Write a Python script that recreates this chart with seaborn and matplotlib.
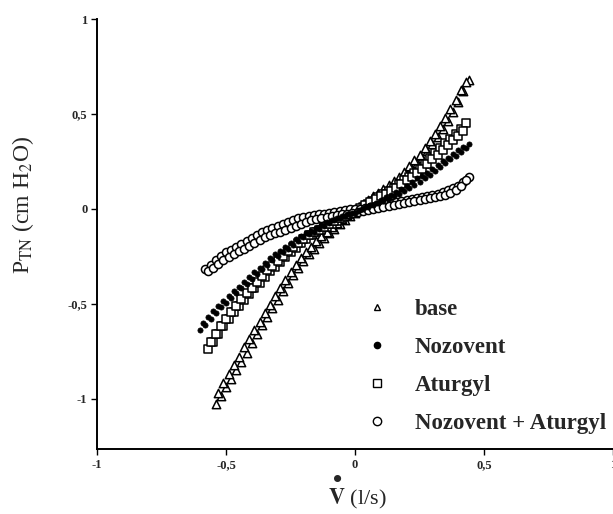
import numpy as np
import pandas as pd
import matplotlib
matplotlib.use("Agg")
import matplotlib.pyplot as plt
from matplotlib.lines import Line2D
import seaborn as sns

# ---- data ----
series_names = ["base", "Nozovent", "Aturgyl", "Nozovent + Aturgyl"]

base_x1 = [-0.54,-0.52,-0.50,-0.48,-0.46,-0.44,-0.42,-0.40,-0.38,-0.36,-0.34,-0.32,-0.30,-0.28,-0.26,-0.24,-0.22,-0.20,-0.18,-0.16,-0.14,-0.12,-0.10,-0.08,-0.06,-0.04,-0.02,0.00,0.02,0.04,0.06,0.08,0.10,0.12,0.14,0.16,0.18,0.20,0.22,0.24,0.26,0.28,0.30,0.32,0.34,0.36,0.38,0.40,0.42,0.44]
base_y1 = [-1.03,-0.985,-0.94,-0.895,-0.85,-0.805,-0.76,-0.71,-0.66,-0.615,-0.57,-0.525,-0.48,-0.435,-0.39,-0.35,-0.31,-0.275,-0.24,-0.21,-0.18,-0.155,-0.13,-0.105,-0.08,-0.06,-0.04,-0.02,0.00,0.015,0.03,0.05,0.07,0.09,0.11,0.135,0.16,0.185,0.21,0.24,0.27,0.305,0.34,0.38,0.42,0.465,0.51,0.56,0.62,0.68]
base_x2 = [-0.53,-0.51,-0.49,-0.47,-0.45,-0.43,-0.41,-0.39,-0.37,-0.35,-0.33,-0.31,-0.29,-0.27,-0.25,-0.23,-0.21,-0.19,-0.17,-0.15,-0.13,-0.11,-0.09,-0.07,-0.05,-0.03,-0.01,0.01,0.03,0.05,0.07,0.09,0.11,0.13,0.15,0.17,0.19,0.21,0.23,0.25,0.27,0.29,0.31,0.33,0.35,0.37,0.39,0.41,0.43]
base_y2 = [-0.97,-0.92,-0.87,-0.825,-0.78,-0.73,-0.685,-0.64,-0.595,-0.55,-0.505,-0.46,-0.415,-0.375,-0.335,-0.295,-0.26,-0.23,-0.20,-0.17,-0.145,-0.12,-0.095,-0.075,-0.055,-0.035,-0.015,0.005,0.025,0.045,0.065,0.085,0.105,0.125,0.145,0.17,0.195,0.225,0.255,0.285,0.32,0.355,0.395,0.435,0.48,0.525,0.575,0.625,0.67]

noz_x1 = [-0.60,-0.58,-0.56,-0.54,-0.52,-0.50,-0.48,-0.46,-0.44,-0.42,-0.40,-0.38,-0.36,-0.34,-0.32,-0.30,-0.28,-0.26,-0.24,-0.22,-0.20,-0.18,-0.16,-0.14,-0.12,-0.10,-0.08,-0.06,-0.04,-0.02,0.00,0.02,0.04,0.06,0.08,0.10,0.12,0.14,0.16,0.18,0.20,0.22,0.24,0.26,0.28,0.30,0.32,0.34,0.36,0.38,0.40,0.42,0.44]
noz_y1 = [-0.64,-0.61,-0.58,-0.55,-0.52,-0.495,-0.47,-0.445,-0.42,-0.395,-0.37,-0.345,-0.32,-0.295,-0.27,-0.25,-0.23,-0.21,-0.19,-0.17,-0.15,-0.135,-0.12,-0.105,-0.09,-0.075,-0.06,-0.05,-0.04,-0.03,-0.02,-0.005,0.01,0.02,0.03,0.045,0.06,0.075,0.09,0.105,0.12,0.14,0.16,0.175,0.19,0.21,0.23,0.25,0.27,0.29,0.31,0.325,0.34]
noz_x2 = [-0.59,-0.57,-0.55,-0.53,-0.51,-0.49,-0.47,-0.45,-0.43,-0.41,-0.39,-0.37,-0.35,-0.33,-0.31,-0.29,-0.27,-0.25,-0.23,-0.21,-0.19,-0.17,-0.15,-0.13,-0.11,-0.09,-0.07,-0.05,-0.03,-0.01,0.01,0.03,0.05,0.07,0.09,0.11,0.13,0.15,0.17,0.19,0.21,0.23,0.25,0.27,0.29,0.31,0.33,0.35,0.37,0.39,0.41,0.43]
noz_y2 = [-0.60,-0.57,-0.54,-0.51,-0.485,-0.46,-0.435,-0.41,-0.385,-0.36,-0.335,-0.31,-0.285,-0.26,-0.24,-0.22,-0.20,-0.18,-0.16,-0.145,-0.13,-0.115,-0.10,-0.085,-0.07,-0.06,-0.05,-0.04,-0.03,-0.02,-0.01,0.00,0.01,0.02,0.03,0.04,0.05,0.065,0.08,0.095,0.11,0.125,0.14,0.16,0.18,0.20,0.22,0.24,0.26,0.28,0.30,0.32]

atu_x1 = [-0.57,-0.55,-0.53,-0.51,-0.49,-0.47,-0.45,-0.43,-0.41,-0.39,-0.37,-0.35,-0.33,-0.31,-0.29,-0.27,-0.25,-0.23,-0.21,-0.19,-0.17,-0.15,-0.13,-0.11,-0.09,-0.07,-0.05,-0.03,-0.01,0.01,0.03,0.05,0.07,0.09,0.11,0.13,0.15,0.17,0.19,0.21,0.23,0.25,0.27,0.29,0.31,0.33,0.35,0.37,0.39,0.41,0.43]
atu_y1 = [-0.74,-0.70,-0.66,-0.62,-0.58,-0.545,-0.51,-0.48,-0.45,-0.42,-0.39,-0.36,-0.33,-0.305,-0.28,-0.255,-0.23,-0.205,-0.18,-0.16,-0.14,-0.125,-0.11,-0.095,-0.08,-0.065,-0.05,-0.035,-0.02,-0.005,0.01,0.025,0.04,0.06,0.08,0.095,0.11,0.13,0.15,0.17,0.19,0.21,0.235,0.27,0.295,0.32,0.345,0.37,0.395,0.42,0.45]
atu_x2 = [-0.56,-0.54,-0.52,-0.50,-0.48,-0.46,-0.44,-0.42,-0.40,-0.38,-0.36,-0.34,-0.32,-0.30,-0.28,-0.26,-0.24,-0.22,-0.20,-0.18,-0.16,-0.14,-0.12,-0.10,-0.08,-0.06,-0.04,-0.02,0.00,0.02,0.04,0.06,0.08,0.10,0.12,0.14,0.16,0.18,0.20,0.22,0.24,0.26,0.28,0.30,0.32,0.34,0.36,0.38,0.40,0.42]
atu_y2 = [-0.70,-0.66,-0.62,-0.58,-0.545,-0.51,-0.475,-0.445,-0.415,-0.385,-0.355,-0.325,-0.30,-0.275,-0.25,-0.225,-0.20,-0.18,-0.16,-0.14,-0.125,-0.11,-0.095,-0.08,-0.065,-0.05,-0.04,-0.025,-0.01,0.005,0.02,0.035,0.05,0.065,0.08,0.095,0.11,0.13,0.15,0.17,0.19,0.21,0.235,0.26,0.285,0.31,0.335,0.36,0.385,0.41]

nat_x1 = [-0.58,-0.56,-0.54,-0.52,-0.50,-0.48,-0.46,-0.44,-0.42,-0.40,-0.38,-0.36,-0.34,-0.32,-0.30,-0.28,-0.26,-0.24,-0.22,-0.20,-0.18,-0.16,-0.14,-0.12,-0.10,-0.08,-0.06,-0.04,-0.02,0.00,0.02,0.04,0.06,0.08,0.10,0.12,0.14,0.16,0.18,0.20,0.22,0.24,0.26,0.28,0.30,0.32,0.34,0.36,0.38,0.40,0.42,0.44]
nat_y1 = [-0.32,-0.295,-0.27,-0.25,-0.23,-0.215,-0.20,-0.185,-0.17,-0.155,-0.14,-0.125,-0.11,-0.10,-0.09,-0.08,-0.07,-0.06,-0.05,-0.045,-0.04,-0.035,-0.03,-0.025,-0.02,-0.015,-0.01,-0.005,0.00,0.00,0.00,0.005,0.01,0.015,0.02,0.025,0.03,0.035,0.04,0.045,0.05,0.055,0.06,0.065,0.07,0.08,0.09,0.10,0.11,0.12,0.14,0.17]
nat_x2 = [-0.57,-0.55,-0.53,-0.51,-0.49,-0.47,-0.45,-0.43,-0.41,-0.39,-0.37,-0.35,-0.33,-0.31,-0.29,-0.27,-0.25,-0.23,-0.21,-0.19,-0.17,-0.15,-0.13,-0.11,-0.09,-0.07,-0.05,-0.03,-0.01,0.01,0.03,0.05,0.07,0.09,0.11,0.13,0.15,0.17,0.19,0.21,0.23,0.25,0.27,0.29,0.31,0.33,0.35,0.37,0.39,0.41,0.43]
nat_y2 = [-0.33,-0.31,-0.29,-0.27,-0.255,-0.24,-0.225,-0.21,-0.195,-0.18,-0.165,-0.15,-0.14,-0.13,-0.12,-0.11,-0.10,-0.09,-0.08,-0.07,-0.06,-0.055,-0.05,-0.045,-0.04,-0.035,-0.03,-0.025,-0.02,-0.015,-0.01,-0.005,0.00,0.005,0.01,0.015,0.02,0.025,0.03,0.035,0.04,0.045,0.05,0.055,0.06,0.065,0.075,0.085,0.10,0.12,0.15]

x_ticks = [-1, -0.5, 0, 0.5, 1]
x_tick_labels = ["-1", "-0,5", "0", "0,5", "1"]
y_ticks = [-1, -0.5, 0, 0.5, 1]
y_tick_labels = ["-1", "-0,5", "0", "0,5", "1"]

# ---- style ----
sns.set_style("ticks")
plt.rcParams["font.family"] = ["Liberation Serif", "DejaVu Serif"]
plt.rcParams["mathtext.fontset"] = "stix"

fig = plt.figure(figsize=(6.13, 5.14), dpi=100)
ax = fig.add_axes([97/613, 1 - 449/514, 516/613, 430/514])

def frame(xs1, ys1, xs2, ys2, name):
    return pd.DataFrame({"x": list(xs1) + list(xs2), "y": list(ys1) + list(ys2), "s": name})

df_base = frame(base_x1, base_y1, base_x2, base_y2, series_names[0])
df_noz = frame(noz_x1, noz_y1, noz_x2, noz_y2, series_names[1])
df_atu = frame(atu_x1, atu_y1, atu_x2, atu_y2, series_names[2])
df_nat = frame(nat_x1, nat_y1, nat_x2, nat_y2, series_names[3])

common = dict(ax=ax, x="x", y="y", legend=False)
sns.scatterplot(data=df_base, marker="^", s=36, facecolor="white", edgecolor="black", linewidth=1.1, **common)
sns.scatterplot(data=df_atu, marker="s", s=30, facecolor="white", edgecolor="black", linewidth=1.1, **common)
sns.scatterplot(data=df_nat, marker="o", s=34, facecolor="white", edgecolor="black", linewidth=1.1, **common)
sns.scatterplot(data=df_noz, marker="o", s=14, facecolor="black", edgecolor="black", linewidth=0.5, **common)

ax.set_xlim(-1, 1)
ax.set_ylim(-1.266, 1.0)
ax.set_xticks(x_ticks)
ax.set_xticklabels(x_tick_labels, fontweight="bold", fontsize=9)
ax.set_yticks(y_ticks)
ax.set_yticklabels(y_tick_labels, fontweight="bold", fontsize=9)
ax.tick_params(axis="both", direction="out", length=4, width=1.0, color="black", pad=3)
sns.despine(ax=ax)
for sp in ("left", "bottom"):
    ax.spines[sp].set_linewidth(1.4)
    ax.spines[sp].set_color("black")

ax.set_ylabel(r"P$_{\mathrm{TN}}$ (cm H$_2$O)", fontsize=17)
ax.yaxis.set_label_coords(-0.118, 0.567)
ax.set_xlabel(r"$\mathbf{V}$ (l/s)", fontsize=16)
ax.xaxis.set_label_coords(0.504, -0.089)
fig.text(338/613, 1 - 481/514, "\u2022", fontsize=19, ha="center", va="center", fontweight="bold")

# legend
handles = [
    Line2D([], [], ls="none", marker="^", markersize=5, mfc="white", mec="black", mew=1.0),
    Line2D([], [], ls="none", marker="o", markersize=4.5, mfc="black", mec="black"),
    Line2D([], [], ls="none", marker="s", markersize=5.5, mfc="white", mec="black", mew=1.0),
    Line2D([], [], ls="none", marker="o", markersize=6, mfc="white", mec="black", mew=1.0),
]
leg = ax.legend(handles, series_names, loc="upper left",
                bbox_to_anchor=((363 - 97) / 516, (449 - 299) / 430),
                frameon=False, prop={"weight": "bold", "size": 16.5},
                handletextpad=1.07, labelspacing=0.74, handlelength=1.2,
                borderaxespad=0, borderpad=0)

fig.savefig("out.png", dpi=100)
